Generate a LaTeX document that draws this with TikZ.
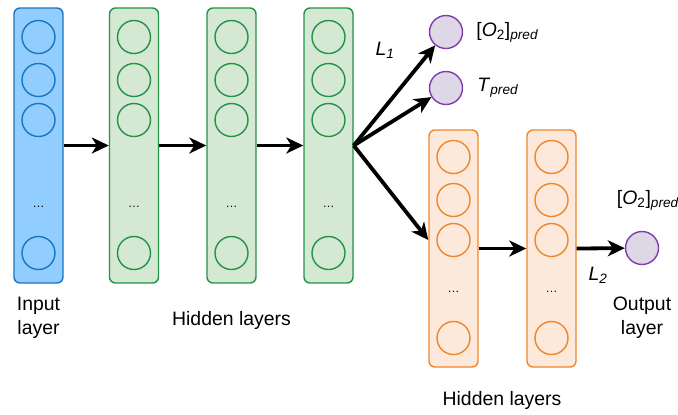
\documentclass[tikz,border=0pt]{standalone}
\usepackage{fontspec}
\setmainfont{Liberation Sans}
\usepackage{tikz}
\usetikzlibrary{arrows.meta, positioning, calc}

\definecolor{inFill}{HTML}{91CEFF}
\definecolor{inDraw}{HTML}{1A76C0}
\definecolor{hidFill}{HTML}{D5E8D4}
\definecolor{hidDraw}{HTML}{1F9446}
\definecolor{oraFill}{HTML}{FCE9DB}
\definecolor{oraDraw}{HTML}{F0862A}
\definecolor{outFill}{HTML}{DDD7E6}
\definecolor{outDraw}{HTML}{7E3CB0}

\tikzset{
    layer/.style={draw, rounded corners=6bp, line width=1.4bp, minimum width=49bp, inner sep=0pt},
    neuron/.style={draw, circle, line width=1.4bp, minimum size=33bp, inner sep=0pt},
    dots/.style={font=\fontsize{12}{14}\selectfont, inner sep=0pt},
    txt/.style={font=\fontsize{19.5}{24}\selectfont, inner sep=1bp, align=center},
    link/.style={line width=3.8bp, -{Stealth[length=17bp, width=16bp, inset=5bp]}}
}

\begin{document}
\begin{tikzpicture}[x=1bp, y=-1bp]
    \useasboundingbox (0,0) rectangle (678,414);

    % input layer
    \node[layer, fill=inFill, draw=inDraw, minimum height=275bp] (in) at (38.5, 145.5) {};
    \node[neuron, draw=inDraw] (in1) at (38.5, 37) {};
    \node[neuron, draw=inDraw] (in2) at (38.5, 80) {};
    \node[neuron, draw=inDraw] (in3) at (38.5, 120) {};
    \node[dots] (indots) at (38.5, 207) {\ldots};
    \node[neuron, draw=inDraw] (in4) at (38.5, 253) {};
    \node[txt] (inlbl) at (38.5, 318) {Input\\layer};

    % shared hidden layers
    \node[layer, fill=hidFill, draw=hidDraw, minimum height=275bp] (h1) at (134, 145.5) {};
    \node[neuron, draw=hidDraw] (h1a) at (134, 37) {};
    \node[neuron, draw=hidDraw] (h1b) at (134, 80) {};
    \node[neuron, draw=hidDraw] (h1c) at (134, 120) {};
    \node[dots] (h1dots) at (134, 207) {\ldots};
    \node[neuron, draw=hidDraw] (h1d) at (134, 253) {};

    \node[layer, fill=hidFill, draw=hidDraw, minimum height=275bp] (h2) at (231.5, 145.5) {};
    \node[neuron, draw=hidDraw] (h2a) at (231.5, 37) {};
    \node[neuron, draw=hidDraw] (h2b) at (231.5, 80) {};
    \node[neuron, draw=hidDraw] (h2c) at (231.5, 120) {};
    \node[dots] (h2dots) at (231.5, 207) {\ldots};
    \node[neuron, draw=hidDraw] (h2d) at (231.5, 253) {};

    \node[layer, fill=hidFill, draw=hidDraw, minimum height=275bp] (h3) at (328.5, 145.5) {};
    \node[neuron, draw=hidDraw] (h3a) at (328.5, 37) {};
    \node[neuron, draw=hidDraw] (h3b) at (328.5, 80) {};
    \node[neuron, draw=hidDraw] (h3c) at (328.5, 120) {};
    \node[dots] (h3dots) at (328.5, 207) {\ldots};
    \node[neuron, draw=hidDraw] (h3d) at (328.5, 253) {};
    \node[txt] (hlbl) at (231.5, 320) {Hidden layers};

    \draw[link] (in.east) -- (h1.west);
    \draw[link] (h1.east) -- (h2.west);
    \draw[link] (h2.east) -- (h3.west);

    % first outputs
    \node[neuron, fill=outFill, draw=outDraw] (o2) at (446, 32) {};
    \node[neuron, fill=outFill, draw=outDraw] (tp) at (446, 88) {};
    \node[txt, right=12bp of o2] (o2lbl) {[\textit{O}\textsubscript{2}]\textsubscript{\textit{pred}}};
    \node[txt, right=13bp of tp] (tplbl) {\textit{T}\textsubscript{\textit{pred}}};
    \node[txt] (l1) at (385, 50) {\textit{L}\textsubscript{\textit{1}}};

    % second branch
    \node[layer, fill=oraFill, draw=oraDraw, minimum height=237bp] (g1) at (453.5, 248.5) {};
    \node[neuron, draw=oraDraw] (g1a) at (453.5, 157) {};
    \node[neuron, draw=oraDraw] (g1b) at (453.5, 200) {};
    \node[neuron, draw=oraDraw] (g1c) at (453.5, 240) {};
    \node[dots] (g1dots) at (453.5, 292) {\ldots};
    \node[neuron, draw=oraDraw] (g1d) at (453.5, 338) {};

    \node[layer, fill=oraFill, draw=oraDraw, minimum height=237bp] (g2) at (551.5, 248.5) {};
    \node[neuron, draw=oraDraw] (g2a) at (551.5, 157) {};
    \node[neuron, draw=oraDraw] (g2b) at (551.5, 200) {};
    \node[neuron, draw=oraDraw] (g2c) at (551.5, 240) {};
    \node[dots] (g2dots) at (551.5, 292) {\ldots};
    \node[neuron, draw=oraDraw] (g2d) at (551.5, 338) {};
    \node[txt] (glbl) at (502, 400) {Hidden layers};

    \node[neuron, fill=outFill, draw=outDraw] (out) at (642, 248) {};
    \node[txt] (outtop) at (648, 200) {[\textit{O}\textsubscript{2}]\textsubscript{\textit{pred}}};
    \node[txt] (outlbl) at (642, 318) {Output\\layer};
    \node[txt] (l2) at (598, 275) {\textit{L}\textsubscript{\textit{2}}};

    \draw[link] (h3.east) -- (o2);
    \draw[link] (h3.east) -- (tp);
    \draw[link] (h3.east) -- (g1.west |- g1c);
    \draw[link] (g1.east) -- (g2.west);
    \draw[link] (g2.east) -- (out);
\end{tikzpicture}
\end{document}
